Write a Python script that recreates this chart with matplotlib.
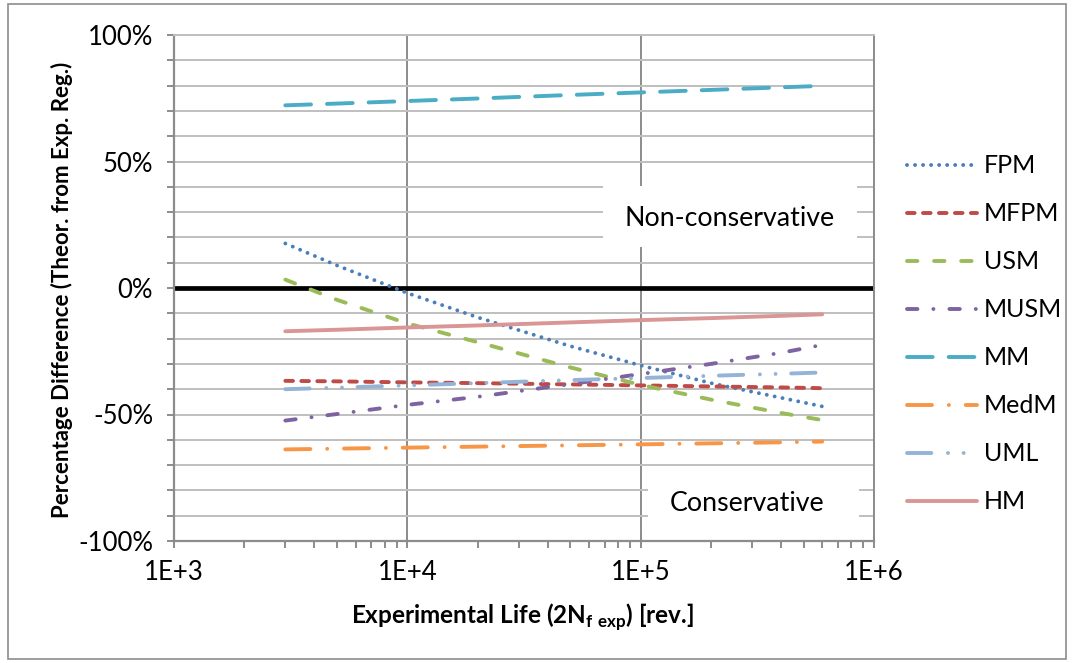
import numpy as np
import matplotlib
matplotlib.use('Agg')
import matplotlib.pyplot as plt
from matplotlib.ticker import MultipleLocator, FuncFormatter, LogLocator, NullFormatter
from matplotlib.patches import Rectangle

plt.rcParams['font.family'] = ['Lato', 'DejaVu Sans']
plt.rcParams['mathtext.fontset'] = 'custom'
plt.rcParams['mathtext.bf'] = 'Lato:bold'
plt.rcParams['mathtext.rm'] = 'Lato'

# ---- data (percent difference vs experimental life) ----
life = [3e3, 5e3, 1e4, 2e4, 5e4, 1e5, 2e5, 4e5, 6e5]
fpm = [17.6, 8.9, -2.0, -11.6, -23.0, -30.6, -37.6, -43.4, -46.8]
mfpm = [-36.7, -36.9, -37.3, -37.6, -38.1, -38.5, -38.9, -39.3, -39.6]
usm = [3.3, -4.7, -14.0, -21.4, -31.4, -38.3, -44.1, -49.4, -52.2]
musm = [-52.4, -49.8, -46.2, -43.0, -38.0, -34.0, -30.0, -25.6, -22.5]
mm = [72.2, 72.9, 73.9, 74.9, 76.3, 77.3, 78.3, 79.3, 79.9]
medm = [-63.8, -63.5, -63.1, -62.7, -62.2, -61.8, -61.4, -61.0, -60.7]
uml = [-40.0, -39.4, -38.5, -37.6, -36.4, -35.6, -34.7, -33.9, -33.4]
hm = [-17.1, -16.5, -15.6, -14.8, -13.6, -12.7, -11.9, -11.0, -10.4]

names = ['FPM', 'MFPM', 'USM', 'MUSM', 'MM', 'MedM', 'UML', 'HM']
series = [fpm, mfpm, usm, musm, mm, medm, uml, hm]
colors = ['#4A7EBB', '#BE4B48', '#9BBB59', '#7F63A1', '#4BACC6', '#F79646', '#95B3D7', '#D99694']

LW = 2.8
k = 2.5 / LW  # keep dash lengths in pixels as measured
def pat(*seq):
    return (0, tuple(max(v * k, 0.01) for v in seq))

dashes = [
    pat(0.0, 2.3),
    pat(2.2, 2.4),
    pat(3.0, 4.8),
    pat(3.0, 4.6, 0.0, 4.6),
    pat(7.4, 4.6),
    pat(7.2, 4.85, 0.0, 4.85),
    pat(7.0, 4.8, 0.0, 4.5, 0.0, 4.5),
    '-',
]

W, H = 1073, 663
FS = 18.5
fig = plt.figure(figsize=(W / 100, H / 100), dpi=100)
ax = fig.add_axes([174 / W, 1 - 541 / H, 700 / W, 506 / H])
ax.set_xscale('log')
ax.set_xlim(1e3, 1e6)
ax.set_ylim(-100, 100)

ax.yaxis.set_major_locator(MultipleLocator(50))
ax.yaxis.set_minor_locator(MultipleLocator(10))
ax.yaxis.set_major_formatter(FuncFormatter(lambda v, p: f'{v:.0f}%'))
ax.xaxis.set_major_locator(LogLocator(base=10, numticks=10))
ax.xaxis.set_minor_locator(LogLocator(base=10, subs=np.arange(2, 10), numticks=100))
ax.xaxis.set_major_formatter(FuncFormatter(lambda v, p: f'1E+{int(round(np.log10(v)))}'))
ax.xaxis.set_minor_formatter(NullFormatter())

ax.set_axisbelow(True)
ax.grid(which='both', axis='y', color='#BFBFBF', lw=1.4)
ax.grid(which='major', axis='x', color='#8C8C8C', lw=1.4)

for s in ['left', 'bottom']:
    ax.spines[s].set_color('#8C8C8C')
    ax.spines[s].set_linewidth(1.6)
ax.spines['right'].set_color('#8C8C8C')
ax.spines['right'].set_linewidth(1.4)
ax.spines['top'].set_color('#BFBFBF')
ax.spines['top'].set_linewidth(1.4)

ax.tick_params(axis='y', which='both', direction='out', length=5, width=1.4,
               color='#8C8C8C', labelsize=FS, pad=10)
ax.tick_params(axis='x', which='major', direction='inout', length=10, width=1.4,
               color='#8C8C8C', labelsize=FS, pad=9)
ax.tick_params(axis='x', which='minor', direction='out', length=5, width=1.4,
               color='#8C8C8C')

ax.axhline(0, color='black', lw=3.4, zorder=2)

lines = []
for name, vals, c, d in zip(names, series, colors, dashes):
    ln, = ax.plot(life, vals, color=c, lw=LW, linestyle=d,
                  dash_capstyle='round', solid_capstyle='round', label=name, zorder=3)
    lines.append(ln)

# annotation boxes
ax.add_patch(Rectangle((0.613, 0.581), 0.363, 0.121, transform=ax.transAxes,
                       fc='white', ec='none', zorder=1.5))
ax.text(0.793, 0.638, 'Non-conservative', transform=ax.transAxes, ha='center',
        va='center', fontsize=19.3, zorder=4)
ax.add_patch(Rectangle((0.677, 0.003), 0.302, 0.137, transform=ax.transAxes,
                       fc='white', ec='none', zorder=1.5))
ax.text(0.8186, 0.075, 'Conservative', transform=ax.transAxes, ha='center',
        va='center', fontsize=19.3, zorder=4)

LFS = 18
fs_px = LFS * 100 / 72
fig.legend(handles=lines, labels=names, loc='center left',
           bbox_to_anchor=(906.7 / W, 1 - 333.9 / H), frameon=False,
           fontsize=LFS, handlelength=70 / fs_px, handletextpad=7 / fs_px,
           labelspacing=1.0, borderpad=0, borderaxespad=0)

fig.text(62 / W, 1 - 290 / H, 'Percentage Difference (Theor. from Exp. Reg.)',
         rotation=90, ha='center', va='center', fontsize=16, fontweight='bold')
fig.text(522 / W, 1 - 617 / H, r'Experimental Life (2N$_{\mathbf{f\ exp}}$) [rev.]',
         ha='center', va='center', fontsize=17.5, fontweight='bold')

fig.add_artist(Rectangle((8 / W, 1 - 659 / H), (1066 - 8) / W, (659 - 4) / H,
                         transform=fig.transFigure, fill=False, ec='#8C8C8C', lw=1.2))

fig.savefig('out.png', dpi=100)
